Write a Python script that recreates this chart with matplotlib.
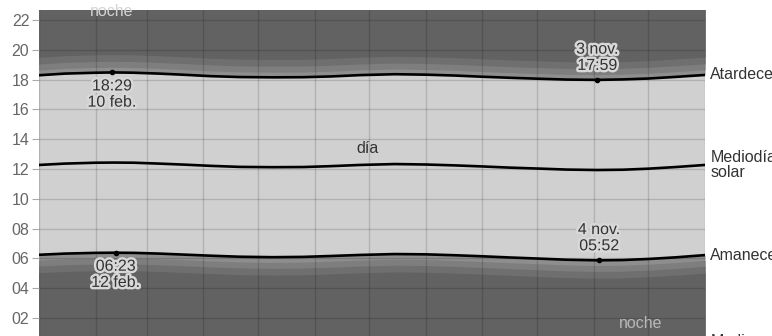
import numpy as np
import matplotlib
matplotlib.use('Agg')
import matplotlib.pyplot as plt
import matplotlib.patheffects as pe

plt.rcParams['font.family'] = ['Liberation Sans', 'DejaVu Sans']

# day of year (0 = 1 Jan) and times in decimal hours
days = [0, 14, 31, 41, 52, 66, 80, 94, 110, 128, 145, 160, 176, 195, 212, 228, 243, 258, 273, 289, 306, 320, 334, 349, 365]
sunset = [18.29, 18.40, 18.46, 18.48, 18.46, 18.40, 18.32, 18.23, 18.17, 18.15, 18.16, 18.21, 18.30, 18.36, 18.33,
          18.27, 18.19, 18.12, 18.06, 18.00, 17.98, 18.01, 18.07, 18.18, 18.31]
sunrise = [6.24, 6.32, 6.37, 6.38, 6.37, 6.32, 6.25, 6.18, 6.11, 6.08, 6.10, 6.16, 6.23, 6.29, 6.27,
           6.21, 6.14, 6.06, 5.99, 5.91, 5.87, 5.89, 5.96, 6.07, 6.22]
noon = [12.27, 12.36, 12.42, 12.43, 12.42, 12.36, 12.29, 12.21, 12.14, 12.12, 12.13, 12.19, 12.27, 12.33, 12.30,
        12.24, 12.17, 12.09, 12.03, 11.96, 11.93, 11.95, 12.02, 12.13, 12.27]

# highlighted extremes
event_days = [40, 42, 306, 307]
event_hours = [18.48, 6.38, 17.98, 5.87]
event_labels = ['18:29\n10 feb.', '06:23\n12 feb.', '3 nov.\n17:59', '4 nov.\n05:52']
event_below = [True, True, False, False]

month_starts = [0, 31, 59, 90, 120, 151, 181, 212, 243, 273, 304, 334, 365]
hour_ticks = list(range(0, 25, 2))

fig = plt.figure(figsize=(7.72, 3.36), dpi=100)
ax = fig.add_axes([39 / 772, 0.0, (705 - 39) / 772, 1 - 10 / 336])
ax.set_facecolor('#d0d0d0')

# night + twilight bands
top, bottom = 24.5, -0.5
band_offsets = [0.0, 0.35, 0.75, 1.2]
band_colors = ['#8e8e8e', '#7e7e7e', '#6f6f6f', '#626262']
ss = np.array(sunset)
sr = np.array(sunrise)
for off, col in zip(band_offsets, band_colors):
    ax.fill_between(days, ss + off, top, color=col, lw=0, zorder=1)
    ax.fill_between(days, bottom, sr - off, color=col, lw=0, zorder=1)

ax.set_xticks(month_starts)
ax.set_yticks(hour_ticks)
ax.set_yticklabels([f'{h:02d}' for h in hour_ticks])
ax.set_xlim(0, 365)
ax.set_ylim(0.79, 22.67)
ax.tick_params(axis='x', length=0, labelbottom=False)
ax.tick_params(axis='y', length=5, color='#aaaaaa', labelcolor='#666666', labelsize=11.5, pad=2)
ax.grid(True, color='black', alpha=0.15, lw=1)
ax.set_axisbelow(False)
for s in ax.spines.values():
    s.set_visible(False)

for series in (sunset, noon, sunrise):
    ax.plot(days, series, color='black', lw=1.9, zorder=3)

halo = [pe.withStroke(linewidth=3.5, foreground='#d8d8d8')]
for d, h, lab, below in zip(event_days, event_hours, event_labels, event_below):
    ax.plot(d, h, 'o', color='black', ms=3, zorder=4)
    ax.annotate(lab, (d, h), xytext=(0, -6 if below else 7), textcoords='offset pixels',
                ha='center', va='top' if below else 'bottom', fontsize=11.5, color='#333333',
                linespacing=1.1, path_effects=halo, zorder=5)

ax.text(180, 13.4, 'día', ha='center', va='center', fontsize=11.5, color='#333333', zorder=5)
ax.text(40, 22.6, 'noche', ha='center', va='center', fontsize=11.5, color='#d4d4d4', zorder=5)
ax.text(330, 1.62, 'noche', ha='center', va='center', fontsize=11.5, color='#b8b8b8', zorder=5)

# labels on the right
lab_kw = dict(transform=ax.get_yaxis_transform(), ha='left', va='center', fontsize=11.5, color='#333333', clip_on=False)
ax.text(1.008, sunset[-1], 'Atardecer', **lab_kw)
ax.text(1.008, noon[-1], 'Mediodía\nsolar', linespacing=1.05, **lab_kw)
ax.text(1.008, sunrise[-1], 'Amanecer', **lab_kw)
ax.text(1.008, 0.45, 'Medianoche', **lab_kw)

fig.savefig('out.png', dpi=100)
